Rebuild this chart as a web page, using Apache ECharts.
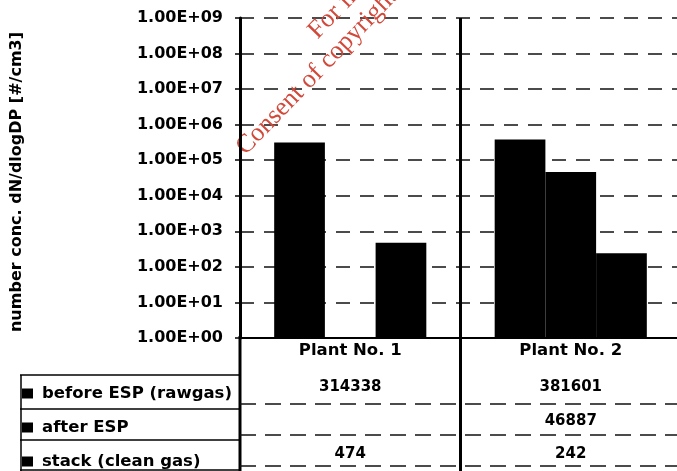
<!DOCTYPE html>
<html>
<head>
<meta charset="utf-8">
<script src="https://cdn.jsdelivr.net/npm/echarts@6/dist/echarts.min.js"></script>
<style>
  html, body { margin: 0; padding: 0; background: #fff; }
  #chart { width: 677px; height: 471px; }
</style>
</head>
<body>
<div id="chart"></div>
<script>
// Particle number concentration per plant, before and after the electrostatic precipitator
const plants = ['Plant No. 1', 'Plant No. 2'];
const seriesNames = ['before ESP (rawgas)', 'after ESP', 'stack (clean gas)'];
const beforeESP = [314338, 381601];
const afterESP = [null, 46887];
const stackGas = [474, 242];
const yMin = 1;
const yMax = 1e9;
const yTitle = 'number conc. dN/dlogDP [#/cm3]';
const noteLines = ['For inspection purposes only.', 'Consent of copyright owner required for any other use.'];

const FONT = 'DejaVu Sans';
const rows = [beforeESP, afterESP, stackGas];

// Excel-style scientific label: 1.00E+06
function sci(v) {
  const e = Math.round(Math.log10(v));
  const m = v / Math.pow(10, e);
  return m.toFixed(2) + 'E' + (e < 0 ? '-' : '+') + String(Math.abs(e)).padStart(2, '0');
}

const chart = echarts.init(document.getElementById('chart'), null, { renderer: 'canvas' });

const textBold = { fontFamily: FONT, fontWeight: 'bold', color: '#000' };

// Category axis plus one label-only axis per data-table row
const rowOffsets = [42, 76, 109];
const xAxes = [{
  type: 'category',
  data: plants,
  position: 'bottom',
  axisLine: { lineStyle: { color: '#000', width: 2 } },
  axisTick: { show: false },
  axisLabel: Object.assign({}, textBold, { fontSize: 16.5, margin: 4 }),
  splitLine: { show: false }
}];
rows.forEach((r, i) => {
  xAxes.push({
    type: 'category',
    data: r.map(v => (v == null ? '' : String(v))),
    position: 'bottom',
    offset: rowOffsets[i],
    axisLine: { show: false },
    axisTick: { show: false },
    axisLabel: Object.assign({}, textBold, { fontSize: 15, margin: 0 }),
    splitLine: { show: false }
  });
});

const series = rows.map((r, i) => ({
  name: seriesNames[i],
  type: 'bar',
  xAxisIndex: 0,
  yAxisIndex: 0,
  data: r.map(v => (v == null ? '-' : v)),
  barGap: '0%',
  barCategoryGap: '31%',
  itemStyle: { color: '#000' },
  emphasis: { disabled: true }
}));

chart.setOption({
  animation: false,
  backgroundColor: '#fff',
  grid: { left: 240, width: 441, top: 18, height: 320, containLabel: false, outerBoundsMode: 'none' },
  xAxis: xAxes,
  yAxis: {
    type: 'log',
    logBase: 10,
    min: yMin,
    max: yMax,
    splitNumber: 9,
    axisLine: { show: true, lineStyle: { color: '#000', width: 3 } },
    axisTick: { show: true, length: 5, lineStyle: { color: '#000', width: 1.5 } },
    axisLabel: Object.assign({}, textBold, { fontSize: 16, margin: 17, formatter: sci }),
    splitLine: { show: true, lineStyle: { color: '#111', width: 1.6, type: [14, 10] } }
  },
  legend: {
    data: seriesNames,
    orient: 'vertical',
    left: 22,
    top: 385,
    padding: 0,
    itemWidth: 11,
    itemHeight: 10,
    itemGap: 17,
    icon: 'rect',
    selectedMode: false,
    textStyle: Object.assign({}, textBold, { fontSize: 16.5, padding: [0, 0, 0, 4] })
  },
  series: series
});

// Data-table frame, divider between plants, axis title and red stamp text
const divX = (chart.convertToPixel({ xAxisIndex: 0 }, 0) + chart.convertToPixel({ xAxisIndex: 0 }, 1)) / 2;
const axisX = 240;
const solid = { stroke: '#000', lineWidth: 1.5 };
const dashed = { stroke: '#111', lineWidth: 1.5, lineDash: [16, 9] };
const line = (x1, y1, x2, y2, style) => ({ type: 'line', silent: true, shape: { x1, y1, x2, y2 }, style });
const stampAngle = 46 * Math.PI / 180;

chart.setOption({
  graphic: [
    line(axisX, 336, axisX, 471, { stroke: '#000', lineWidth: 3 }),
    line(divX, 18, divX, 471, { stroke: '#000', lineWidth: 3 }),
    line(20, 375, axisX, 375, solid),
    line(21, 375, 21, 471, solid),
    line(20, 409, axisX, 409, solid),
    line(20, 440, axisX, 440, solid),
    line(20, 470, axisX, 470, solid),
    line(axisX, 404, 677, 404, dashed),
    line(axisX, 435, 677, 435, dashed),
    line(axisX, 466, 677, 466, dashed),
    {
      type: 'text', silent: true, x: 17, y: 182, rotation: Math.PI / 2,
      style: { text: yTitle, font: 'bold 16px "DejaVu Sans"', fill: '#000', textAlign: 'center', textVerticalAlign: 'middle' }
    },
    {
      type: 'text', silent: true, x: 322, y: 44, rotation: stampAngle,
      style: { text: noteLines[0], font: '26px "Liberation Serif"', fill: '#d2483a', textAlign: 'left', textVerticalAlign: 'bottom' }
    },
    {
      type: 'text', silent: true, x: 250, y: 160, rotation: stampAngle,
      style: { text: noteLines[1], font: '26px "Liberation Serif"', fill: '#d2483a', textAlign: 'left', textVerticalAlign: 'bottom' }
    }
  ]
});
</script>
</body>
</html>
